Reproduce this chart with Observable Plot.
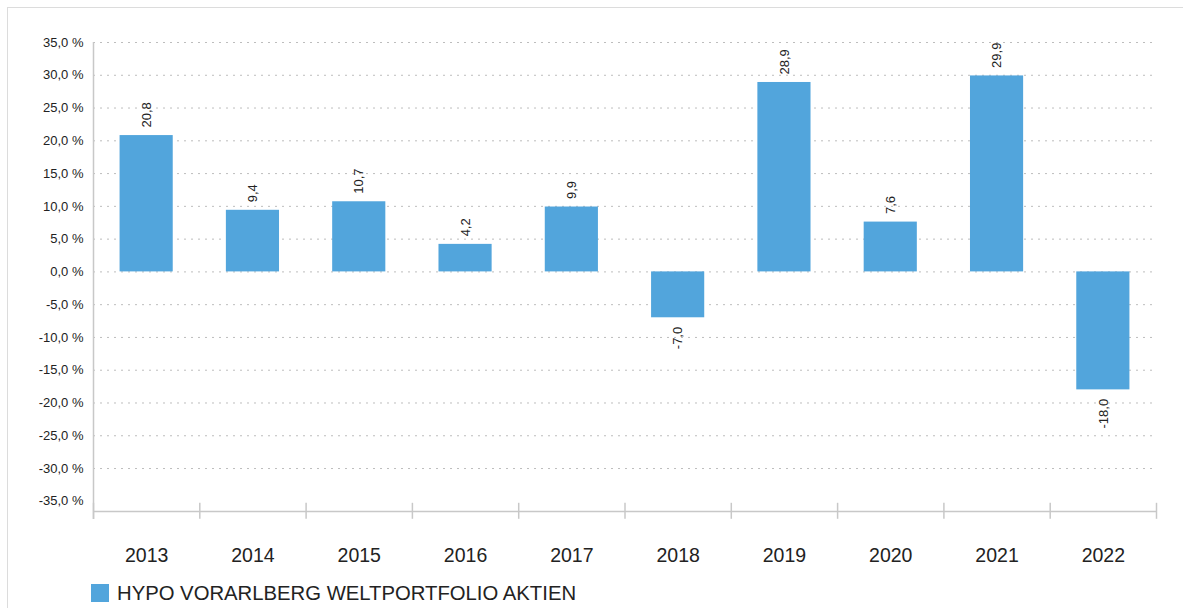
<!DOCTYPE html>
<html><head><meta charset="utf-8">
<script src="https://cdn.jsdelivr.net/npm/d3@7"></script>
<script src="https://cdn.jsdelivr.net/npm/@observablehq/plot@0.6"></script>
<style>
body{margin:0;background:#fff;font-family:"Liberation Sans",Arial,sans-serif;}
#wrap{position:relative;width:1183px;height:608px;overflow:hidden;}
#border{position:absolute;left:7px;top:7px;width:1400px;height:800px;border-left:1px solid #dcdcdc;border-top:1px solid #dcdcdc;}
#chart{position:absolute;left:0;top:0;}
#legend{position:absolute;left:91px;top:584px;height:18px;display:flex;align-items:center;font-size:20.3px;color:#222;white-space:nowrap;}
.sw{width:18px;height:18px;background:#52a5dc;margin-right:8px;flex:none;}
</style></head>
<body><div id="wrap"><div id="border"></div><div id="chart"></div><div id="legend"><div class="sw"></div><span id="legtext"></span></div></div>
<script>
const years = ["2013","2014","2015","2016","2017","2018","2019","2020","2021","2022"];
const returns = [20.8, 9.4, 10.7, 4.2, 9.9, -7.0, 28.9, 7.6, 29.9, -18.0];
const yTicks = [35, 30, 25, 20, 15, 10, 5, 0, -5, -10, -15, -20, -25, -30, -35];
const seriesName = "HYPO VORARLBERG WELTPORTFOLIO AKTIEN";
const barColor = "#52a5dc";

const data = years.map((year, i) => ({year, value: returns[i]}));
const gridTicks = yTicks.filter(t => t > -35);
const fmt1 = v => v.toFixed(1).replace(".", ",");

const W = 1183, H = 575, mL = 93, mR = 27, mT = 42, mB = 64;
const step = (W - mL - mR) / years.length;
const axisColor = "#c8c8c8";

const plot = Plot.plot({
  width: W, height: H,
  marginLeft: mL, marginRight: mR, marginTop: mT, marginBottom: mB,
  style: {fontFamily: '"Liberation Sans", Arial, sans-serif', color: "#222", background: "transparent"},
  x: {type: "band", domain: years, paddingInner: 0.5, paddingOuter: 0.25, round: false, label: null},
  y: {domain: [-35, 35], range: [500.8, 42], label: null},
  marks: [
    Plot.gridY({ticks: gridTicks, stroke: "#bdbdbd", strokeOpacity: 1, strokeDasharray: "2,5"}),
    Plot.barY(data, {x: "year", y: "value", fill: barColor}),
    Plot.text(data.filter(d => d.value >= 0), {x: "year", y: "value", text: d => fmt1(d.value), rotate: -90, textAnchor: "start", dy: -8, fontSize: 13, fill: "#222"}),
    Plot.text(data.filter(d => d.value < 0), {x: "year", y: "value", text: d => fmt1(d.value), rotate: -90, textAnchor: "end", dy: 9, fontSize: 13, fill: "#222"}),
    Plot.ruleX([years[0]], {x: d => d, dx: -step / 2, stroke: axisColor, strokeWidth: 1.5, insetBottom: -8}),
    Plot.ruleY([-35], {dy: 10.2, stroke: axisColor, strokeWidth: 1.5}),
    Plot.ruleX(years, {x: d => d, dx: -step / 2, y1: -35, y2: -35, insetTop: 2, insetBottom: -18, stroke: axisColor, strokeWidth: 1.5}),
    Plot.ruleX([years[years.length - 1]], {x: d => d, dx: step / 2, y1: -35, y2: -35, insetTop: 2, insetBottom: -18, stroke: axisColor, strokeWidth: 1.5}),
    Plot.axisY({ticks: yTicks, tickSize: 0, tickPadding: 10, tickFormat: d => fmt1(d) + " %", fontSize: 13, fill: "#222", label: null}),
    Plot.axisX({tickSize: 0, tickPadding: 37, fontSize: 19.5, fill: "#222", label: null})
  ]
});
document.getElementById("chart").appendChild(plot);
document.getElementById("legtext").textContent = seriesName;
</script>
</body></html>
